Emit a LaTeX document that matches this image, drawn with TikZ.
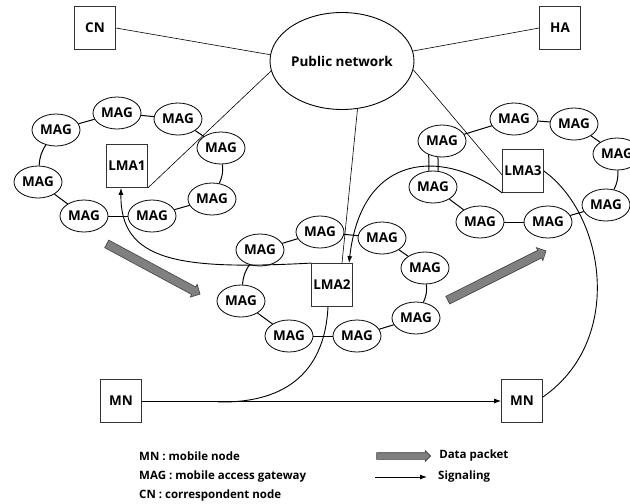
\documentclass[tikz,border=0pt]{standalone}
\usepackage{fontspec}
\setmainfont{Open Sans}
\usetikzlibrary{arrows.meta,positioning,shapes.geometric,shapes.arrows}
\tikzset{
    %Define standard arrow tip
    >={Latex[length=7pt,width=5pt]},
    %Define style for boxes
    entity/.style={
           rectangle,
           draw=black!80, line width=0.8pt,
           minimum width=41pt,
           minimum height=43pt,
           inner sep=0.5pt,
           font=\fontsize{13.5}{15}\selectfont\bfseries,
           text centered,
           },
    gateway/.style={
           ellipse,
           draw=black, line width=0.8pt,
           minimum width=48pt,
           minimum height=32pt,
           inner sep=0pt,
           font=\fontsize{13.5}{15}\selectfont\bfseries,
           },
    cloud/.style={
           ellipse,
           draw=black, line width=0.9pt,
           minimum width=144pt,
           minimum height=97pt,
           inner sep=0pt,
           font=\fontsize{13.5}{15}\selectfont\bfseries,
           },
    % Define arrow style
    ring/.style={
           line width=1pt,
           },
    sig/.style={
           line width=0.9pt,
           },
    wire/.style={
           line width=0.6pt,
           },
    packet/.style={
           single arrow,
           draw=black!75, line width=0.6pt,
           fill=black!50,
           inner xsep=0pt, inner ysep=4pt,
           minimum width=0pt,
           single arrow head extend=3pt,
           },
    legend/.style={
           anchor=west,
           inner sep=0pt,
           font=\fontsize{11.5}{13}\selectfont\bfseries,
           }
}

\begin{document}
\begin{tikzpicture}[x=1pt,y=-1pt]
\useasboundingbox (0,0) rectangle (630,504);

 %nodes
\node[cloud](net) at (342,61){Public network};
\node[entity](cn) at (95,28){CN};
\node[entity](ha) at (560,28){HA};
\node[entity](lma1) at (127,166){LMA1};
\node[entity](lma2) at (332,285){LMA2};
\node[entity](lma3) at (523,171){LMA3};
\node[entity](mnl) at (121,401){MN};
\node[entity](mnr) at (522,401){MN};

 %first domain
\node[gateway](a1) at (117,113){MAG};
\node[gateway](a2) at (178,119){MAG};
\node[gateway](a3) at (221,148){MAG};
\node[gateway](a4) at (212,199){MAG};
\node[gateway](a5) at (152,216){MAG};
\node[gateway](a6) at (84,216){MAG};
\node[gateway](a7) at (38,182){MAG};
\node[gateway](a8) at (56,130){MAG};

 %second domain
\node[gateway](b1) at (260,250){MAG};
\node[gateway](b2) at (320,232){MAG};
\node[gateway](b3) at (382,238){MAG};
\node[gateway](b4) at (425,268){MAG};
\node[gateway](b5) at (416,318){MAG};
\node[gateway](b6) at (357,336){MAG};
\node[gateway](b7) at (289,336){MAG};
\node[gateway](b8) at (241,301){MAG};

 %third domain
\node[gateway](c1) at (442,141){MAG};
\node[gateway](c2) at (514,119){MAG};
\node[gateway](c3) at (574,124){MAG};
\node[gateway](c4) at (617,154){MAG};
\node[gateway](c5) at (606,205){MAG};
\node[gateway](c6) at (548,222){MAG};
\node[gateway](c7) at (480,222){MAG};
\node[gateway](c8) at (433,187){MAG};

 %rings
\path[ring]
    (a8) edge (a1) (a1) edge (a2) (a2) edge (a3)
    (a3) edge[bend left=15] (a4)
    (a4) edge (a5) (a5) edge (a6) (a6) edge (a7)
    (a7) edge[bend left=15] (a8)
    (b1) edge (b2) (b2) edge (b3) (b3) edge (b4)
    (b4) edge[bend left=15] (b5)
    (b5) edge (b6) (b6) edge (b7) (b7) edge (b8)
    (b8) edge[bend left=15] (b1)
    (c1) edge (c2) (c2) edge (c3) (c3) edge (c4)
    (c4) edge[bend left=15] (c5)
    (c5) edge (c6) (c6) edge (c7) (c7) edge (c8)
    (c1.226) edge (c8.104)
    (c1.256) edge (c8.72);

 %public network links
\path[wire]
    (cn.east) edge (net.175)
    (ha.west) edge (net.8)
    (net.188) edge (lma1.south east)
    (net.-72) edge ([xshift=10pt]lma2.north)
    (net.-7) edge ([yshift=-4pt]lma3.west);

 %signaling
\coordinate (join) at (218,402);
\draw[sig,->] (lma2.north west) .. controls (180,270) and (120,262) .. ([xshift=-6pt]lma1.south);
\draw[sig,->] (lma3.south west) .. controls (445,150) and (362,150) .. ([xshift=17pt]lma2.north);
\draw[sig] ([xshift=-4pt]lma2.south) .. controls (324,385) and (270,403) .. (join);
\draw[sig] (lma3.east) .. controls (605,215) and (625,340) .. ([yshift=4pt]mnr.east);
\draw[sig,->] (mnl) -- (mnr);

 %data packets
\node[packet, minimum height=106pt, rotate=-28.3](pk1) at (151.5,268){};
\node[packet, minimum height=110pt, rotate=26.6](pk2) at (495,276.5){};

 %legend
\node[legend](lmn) at (139,456){MN : mobile node};
\node[legend](lmag) at (139,477){MAG : mobile access gateway};
\node[legend](lcn) at (139,496){CN : correspondent node};
\node[packet, minimum height=54pt, inner ysep=3pt, single arrow head extend=2pt](lpk) at (402,456){};
\node[legend, right=8pt of lpk.tip, anchor=west](ldata){Data packet};
\coordinate (ls1) at (375,477);
\coordinate (ls2) at (427,477);
\draw[sig,->] (ls1) -- (ls2);
\node[legend, right=11pt of ls2, anchor=west](lsig){Signaling};

\end{tikzpicture}
\end{document}
